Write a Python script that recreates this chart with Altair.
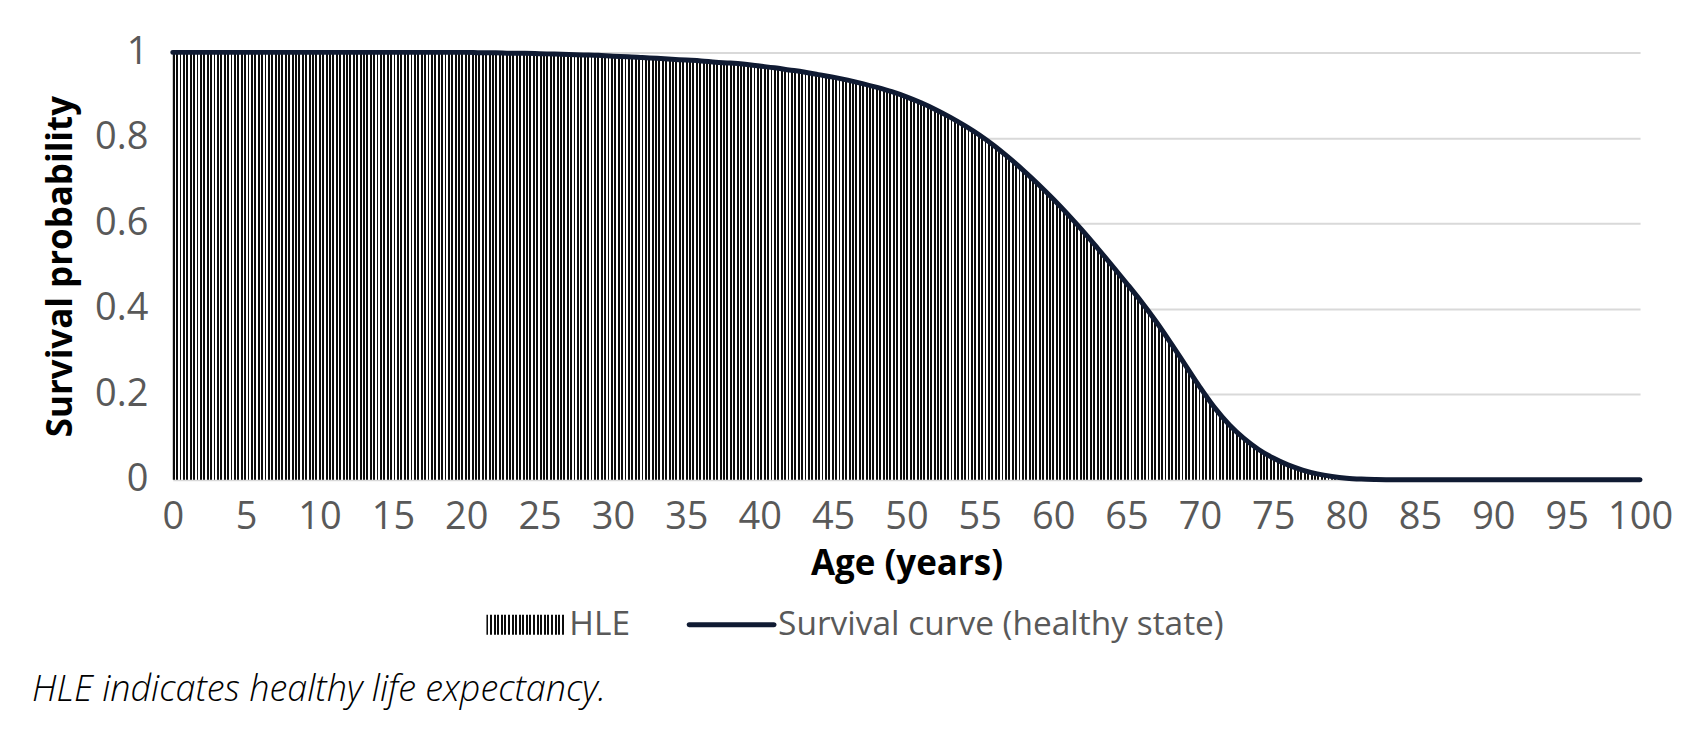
import altair as alt
import pandas as pd

# ---- data ----
ages = [0, 5, 10, 15, 20, 21, 22, 23, 24, 25, 26, 27, 28, 29, 30, 31, 32, 33, 34, 35,
        36, 37, 38, 39, 40, 41, 42, 43, 44, 45, 46, 47, 48, 49, 50, 51, 52, 53, 54, 55,
        56, 57, 58, 59, 60, 61, 62, 63, 64, 65, 66, 67, 68, 69, 70, 71, 72, 73, 74, 75,
        76, 77, 78, 79, 80, 81, 82, 83, 84, 85, 90, 95, 100]
survival = [1.0, 1.0, 1.0, 1.0, 1.0, 0.999, 0.999, 0.998, 0.998, 0.997, 0.996, 0.995, 0.994, 0.993, 0.991,
            0.990, 0.988, 0.986, 0.984, 0.982, 0.980, 0.977, 0.975, 0.972, 0.968, 0.964, 0.959, 0.954,
            0.948, 0.942, 0.935, 0.927, 0.918, 0.908, 0.896, 0.882, 0.866, 0.848, 0.828, 0.806,
            0.781, 0.753, 0.723, 0.691, 0.657, 0.621, 0.583, 0.543, 0.502, 0.460, 0.417, 0.371,
            0.321, 0.269, 0.217, 0.169, 0.129, 0.097, 0.071, 0.051, 0.035, 0.023, 0.014, 0.008,
            0.004, 0.002, 0.001, 0.0004, 0.0001, 0.0, 0.0, 0.0, 0.0]
x_ticks = list(range(0, 101, 5))
y_ticks = [0, 0.2, 0.4, 0.6, 0.8, 1]
legend_labels = ["HLE", "Survival curve (healthy state)"]
caption = "HLE indicates healthy life expectancy."

FONT = "Open Sans"
LINE_COLOR = "#101b33"

df = pd.DataFrame({"age": ages, "surv": survival})


def stripes(n, duty=0.56, dark="#0c0c0c", light="#ffffff"):
    stops = []
    for i in range(n):
        a = i / n
        b = (i + duty) / n
        c = min((i + 1) / n, 1.0)
        stops += [
            alt.GradientStop(offset=a, color=dark),
            alt.GradientStop(offset=b, color=dark),
            alt.GradientStop(offset=b, color=light),
            alt.GradientStop(offset=c, color=light),
        ]
    return alt.LinearGradient(gradient="linear", stops=stops, x1=0, x2=1, y1=0, y2=0)


x_enc = alt.X("age:Q", scale=alt.Scale(domain=[0, 100], nice=False),
              axis=alt.Axis(values=x_ticks, title="Age (years)", grid=False, ticks=False,
                            domain=False, labelPadding=19, titlePadding=10, labelFlush=False))
y_enc = alt.Y("surv:Q", scale=alt.Scale(domain=[0, 1], nice=False),
              axis=alt.Axis(values=y_ticks, format=".1~f", title="Survival probability",
                            ticks=False, domain=False, labelPadding=25, titlePadding=16,
                            gridColor="#d9d9d9", gridWidth=2, labelFlush=False))

area = alt.Chart(df).mark_area(
    fill=stripes(432), interpolate="monotone", stroke=None
).encode(x=x_enc, y=y_enc)

line = alt.Chart(df).mark_line(
    color=LINE_COLOR, strokeWidth=5, interpolate="monotone", strokeCap="round"
).encode(x="age:Q", y="surv:Q")

one = pd.DataFrame({"k": [0]})

sw_hle = alt.Chart(one).mark_rect(fill=stripes(22)).encode(
    x=alt.value(314), x2=alt.value(393), y=alt.value(563), y2=alt.value(583))
txt_hle = alt.Chart(one).mark_text(
    text=legend_labels[0], align="left", baseline="middle", font=FONT, fontSize=33.5, color="#595959"
).encode(x=alt.value(397), y=alt.value(573))
sw_line = alt.Chart(one).mark_rule(color=LINE_COLOR, strokeWidth=5, strokeCap="round").encode(
    x=alt.value(517), x2=alt.value(602), y=alt.value(573))
txt_line = alt.Chart(one).mark_text(
    text=legend_labels[1], align="left", baseline="middle", font=FONT, fontSize=33.5, color="#595959"
).encode(x=alt.value(606), y=alt.value(573))
cap = alt.Chart(one).mark_text(
    text=caption, align="left", baseline="middle", font=FONT, fontSize=36, fontStyle="italic",
    fontWeight=300, color="#000000"
).encode(x=alt.value(-141), y=alt.value(638))

chart = alt.layer(area, line, sw_hle, txt_hle, sw_line, txt_line, cap).properties(
    width=1469, height=428,
    padding={"left": 165, "top": 44, "right": 48, "bottom": 250},
    autosize=alt.AutoSizeParams(type="none"),
).configure_view(stroke=None).configure_axis(
    labelFont=FONT, labelFontSize=38, labelColor="#595959",
    titleFont=FONT, titleFontSize=35, titleFontWeight="bold", titleColor="#000000",
)

chart.save("out.html", embed_options={"renderer": "svg", "actions": False})
